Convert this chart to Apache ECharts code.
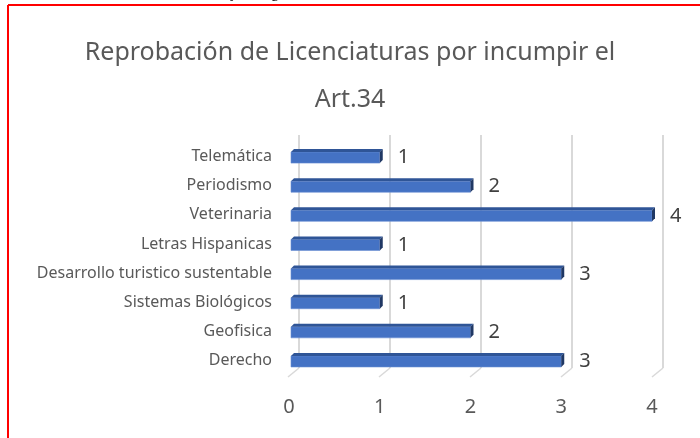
<!DOCTYPE html>
<html>
<head>
<meta charset="utf-8">
<script src="https://cdn.jsdelivr.net/npm/echarts@6/dist/echarts.min.js"></script>
<style>
  html, body { margin: 0; padding: 0; background: #fff; }
  #chart { width: 700px; height: 438px; }
</style>
</head>
<body>
<div id="chart"></div>
<script>
const categories = [
  'Derecho',
  'Geofisica',
  'Sistemas Biológicos',
  'Desarrollo turistico sustentable',
  'Letras Hispanicas',
  'Veterinaria',
  'Periodismo',
  'Telemática'
]
const values = [3, 2, 1, 3, 1, 4, 2, 1]
const valueTicks = [0, 1, 2, 3, 4]
const titleText = 'Reprobación de Licenciaturas por incumpir el\nArt.34'

const font = "'Noto Sans', sans-serif"
const chart = echarts.init(document.getElementById('chart'))

// front face / top face / side face of the 3D-looking bars
const renderBar = (params, api) => {
  const v = api.value(0)
  const cat = api.value(1)
  const start = api.coord([0, cat])
  const end = api.coord([v, cat])
  const band = api.size([0, 1])[1]
  const h = band * 0.38
  const dx = 3
  const dy = -3
  const x0 = start[0] + 2
  const x1 = end[0]
  const y0 = end[1] - h / 2 + 1
  return {
    type: 'group',
    children: [
      {
        type: 'rect',
        shape: { x: x0, y: y0, width: x1 - x0, height: h },
        style: { fill: '#4472C4', stroke: '#6A8FD3', lineWidth: 0.6 }
      },
      {
        type: 'polygon',
        shape: { points: [[x0, y0], [x0 + dx, y0 + dy], [x1 + dx, y0 + dy], [x1, y0]] },
        style: { fill: '#2F5597' }
      },
      {
        type: 'polygon',
        shape: { points: [[x1, y0], [x1 + dx, y0 + dy], [x1 + dx, y0 + h + dy], [x1, y0 + h]] },
        style: { fill: '#203864' }
      },
      {
        type: 'text',
        x: x1 + dx + 15,
        y: end[1] + 1,
        style: {
          text: String(v),
          fill: '#404040',
          fontSize: 20,
          fontFamily: font,
          verticalAlign: 'middle'
        }
      }
    ]
  }
}

// little diagonal lines on the floor, from the back wall to the front edge
const renderFloor = (params, api) => {
  const p = api.coord([api.value(0), 0])
  const cs = params.coordSys
  const yb = cs.y + cs.height
  return {
    type: 'line',
    shape: { x1: p[0], y1: yb, x2: p[0] - 11, y2: yb + 9 },
    style: { stroke: '#D9D9D9', lineWidth: 1.5 }
  }
}

const option = {
  backgroundColor: '#fff',
  animation: false,
  title: {
    text: titleText,
    left: 'center',
    top: 24,
    textStyle: {
      color: '#595959',
      fontSize: 25,
      fontWeight: 'normal',
      fontFamily: font,
      lineHeight: 47
    }
  },
  graphic: [
    { type: 'line', shape: { x1: 8, y1: 5, x2: 700, y2: 5 }, style: { stroke: '#FF0000', lineWidth: 2 } },
    { type: 'line', shape: { x1: 8, y1: 5, x2: 8, y2: 438 }, style: { stroke: '#FF0000', lineWidth: 2 } },
    { type: 'text', x: 230, y: -15, style: { text: 'y,', fill: '#000', fontSize: 16, fontFamily: "'Liberation Serif', serif" } },
    { type: 'text', x: 271, y: -15, style: { text: 'g', fill: '#000', fontSize: 16, fontFamily: "'Liberation Serif', serif" } }
  ],
  grid: [
    { left: 299, right: 37, top: 135, bottom: 70 },
    { left: 289, right: 48, top: 142, bottom: 63 }
  ],
  xAxis: [
    {
      gridIndex: 0,
      type: 'value',
      min: 0,
      max: 4,
      interval: 1,
      axisLine: { show: false },
      axisTick: { show: false },
      axisLabel: { show: false },
      splitLine: { show: true, lineStyle: { color: '#D9D9D9', width: 2 } }
    },
    {
      gridIndex: 1,
      type: 'value',
      min: 0,
      max: 4,
      interval: 1,
      axisLine: { show: false },
      axisTick: { show: false },
      splitLine: { show: false },
      axisLabel: { color: '#595959', fontSize: 20, fontFamily: font, margin: 22 }
    }
  ],
  yAxis: [
    {
      gridIndex: 0,
      type: 'category',
      data: categories,
      axisLine: { show: false },
      axisTick: { show: false },
      axisLabel: { show: false }
    },
    {
      gridIndex: 1,
      type: 'category',
      data: categories,
      axisLine: { show: false },
      axisTick: { show: false },
      axisLabel: { color: '#595959', fontSize: 16, fontFamily: font, margin: 17 }
    }
  ],
  series: [
    {
      type: 'custom',
      xAxisIndex: 0,
      yAxisIndex: 0,
      clip: false,
      silent: true,
      renderItem: renderFloor,
      data: valueTicks.map((t) => [t])
    },
    {
      type: 'custom',
      xAxisIndex: 1,
      yAxisIndex: 1,
      clip: false,
      renderItem: renderBar,
      encode: { x: 0, y: 1 },
      data: values.map((v, i) => [v, i])
    }
  ]
}
chart.setOption(option)
</script>
</body>
</html>
